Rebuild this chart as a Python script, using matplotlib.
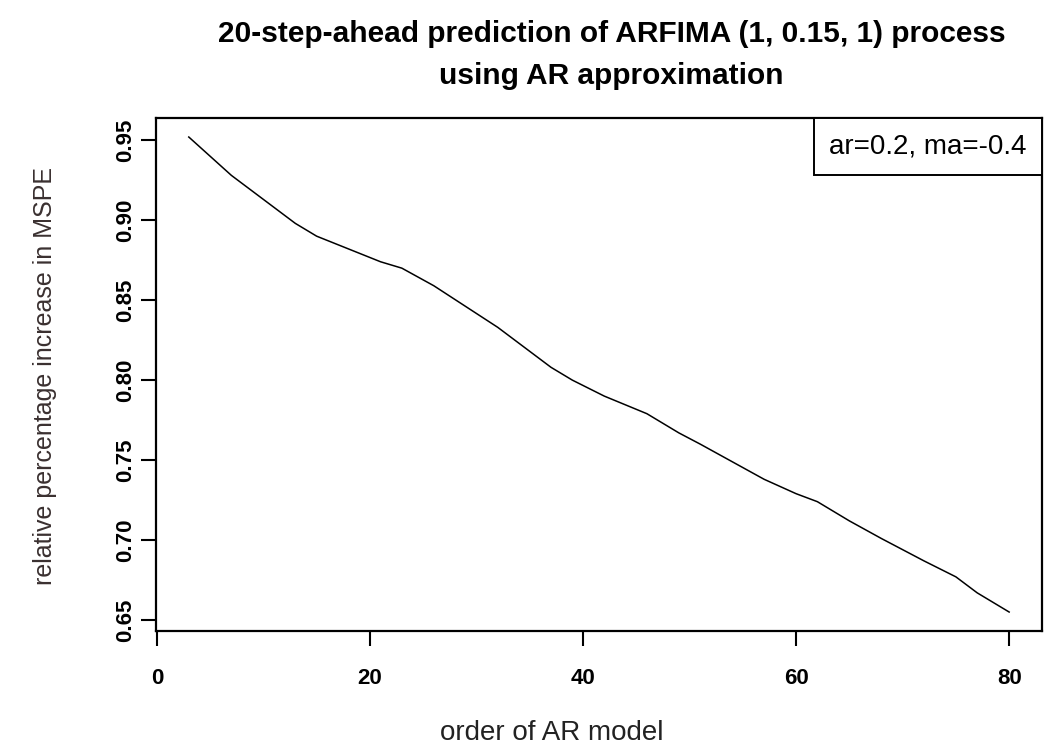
#!/usr/bin/env python3
"""20-step-ahead prediction MSPE vs AR order (R base-graphics look)."""
import matplotlib
matplotlib.use("Agg")
import matplotlib.pyplot as plt
from matplotlib.lines import Line2D
from matplotlib import font_manager

# values
order = [3, 5, 7, 10, 13, 15, 18, 21, 23, 26, 29, 32, 35, 37, 39,
         42, 46, 49, 51, 54, 57, 60, 62, 65, 68, 72, 75, 77, 80]
mspe = [0.952, 0.940, 0.928, 0.913, 0.898, 0.890, 0.882, 0.874, 0.870,
        0.859, 0.846, 0.833, 0.818, 0.808, 0.800, 0.790, 0.779, 0.767,
        0.760, 0.749, 0.738, 0.729, 0.724, 0.712, 0.701, 0.687, 0.677,
        0.667, 0.655]

xticks = [0, 20, 40, 60, 80]
yticks = [0.65, 0.70, 0.75, 0.80, 0.85, 0.90, 0.95]
ytick_labels = ["0.65", "0.70", "0.75", "0.80", "0.85", "0.90", "0.95"]

title_lines = ["20-step-ahead prediction of ARFIMA (1, 0.15, 1) process",
               "using AR approximation"]
xlabel = "order of AR model"
ylabel = "relative percentage increase in MSPE"
legend_text = "ar=0.2, ma=-0.4"


def pick_font(names):
    have = {f.name for f in font_manager.fontManager.ttflist}
    for n in names:
        if n in have:
            return n
    return "DejaVu Sans"


plain = pick_font(["Liberation Sans", "Arial"])

fig = plt.figure(figsize=(10.51, 7.56), dpi=100)
ax = fig.add_axes([0.1484, 0.1653, 0.843, 0.6786])

ax.plot(order, mspe, color="black", lw=1.1)

# R-style 4% padding around the data
xr = max(order) - min(order)
yr = max(mspe) - min(mspe)
ax.set_xlim(min(order) - 0.04 * xr, max(order) + 0.04 * xr)
ax.set_ylim(min(mspe) - 0.04 * yr, max(mspe) + 0.04 * yr)

ax.set_xticks(xticks)
ax.set_xticklabels([str(t) for t in xticks], fontfamily=plain,
                   fontweight="bold", fontsize=16)
ax.set_yticks(yticks)
ax.set_yticklabels(ytick_labels, fontfamily=plain, fontweight="bold",
                   fontsize=16, rotation=90, va="center")
ax.tick_params(axis="both", direction="out", length=10.5, width=1.5)
ax.tick_params(axis="x", pad=16)
ax.tick_params(axis="y", pad=4)

for s in ax.spines.values():
    s.set_linewidth(1.6)

ax.set_xlabel(xlabel, fontfamily=plain, fontsize=20, color="#222222")
ax.xaxis.label.set_va("center")
ax.xaxis.set_label_coords(0.447, -0.199)
ax.set_ylabel(ylabel, fontfamily=plain, fontsize=18, color="#3a3030")
ax.yaxis.label.set_va("center")
ax.yaxis.set_label_coords(-0.125, 0.497)

fig.text(0.582, 0.955, title_lines[0], ha="center", va="center",
         fontfamily=plain, fontweight="bold", fontsize=21.5)
fig.text(0.582, 0.899, title_lines[1], ha="center", va="center",
         fontfamily=plain, fontweight="bold", fontsize=21.5)

leg = ax.legend([Line2D([], [], linestyle="none")], [legend_text],
                loc="upper right", handlelength=0, handletextpad=0,
                borderaxespad=0, fancybox=False, edgecolor="black",
                framealpha=1, borderpad=0.55,
                prop={"family": plain, "size": 20})
leg.get_frame().set_linewidth(1.4)

fig.savefig("out.png", dpi=100, facecolor="white")
